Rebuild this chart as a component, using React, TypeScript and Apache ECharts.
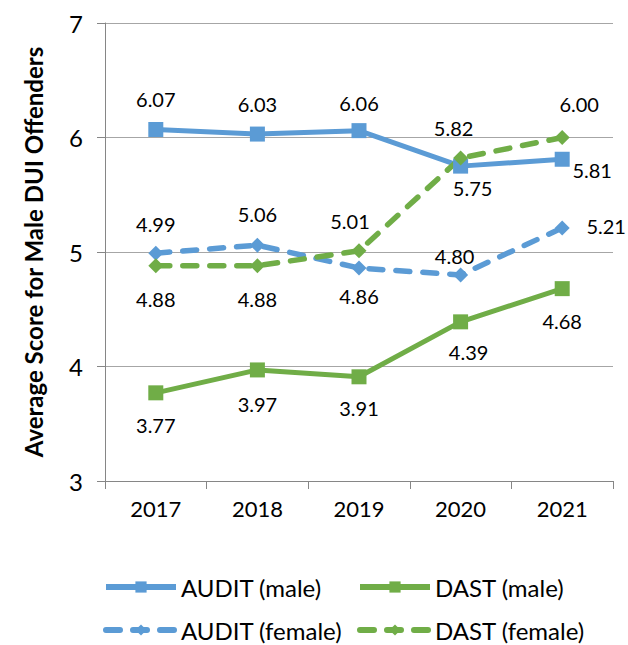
import React, { useEffect, useRef } from "react";
import * as echarts from "echarts";

const years = ["2017", "2018", "2019", "2020", "2021"];
const auditMale = [6.07, 6.03, 6.06, 5.75, 5.81];
const dastMale = [3.77, 3.97, 3.91, 4.39, 4.68];
const auditFemale = [4.99, 5.06, 4.86, 4.8, 5.21];
const dastFemale = [4.88, 4.88, 5.01, 5.82, 6.0];
const yTicks = { min: 3, max: 7, interval: 1 };

// label offsets (style only) relative to each point
const offAuditMale = [[0, -30], [0, -30], [0, -28], [12, 22], [30, 11]];
const offDastMale = [[0, 32], [0, 34], [0, 31], [8, 30], [0, 32]];
const offAuditFemale = [[0, -29], [0, -31], [0, 28], [-6, -19], [44, -2]];
const offDastFemale = [[0, 33], [0, 33], [-9, -30], [-7, -30], [17, -34]];

const BLUE = "#5B9BD5";
const GREEN = "#70AD47";
const FONT = "Lato";
const DASH = [14, 13];

function mkData(vals: number[], offs: number[][]) {
  return vals.map((v, i) => ({
    value: v,
    label: { offset: offs[i] },
  }));
}

function mkSeries(name: string, vals: number[], offs: number[][], color: string, dashed: boolean) {
  return {
    name,
    type: "line",
    data: mkData(vals, offs),
    symbol: dashed ? "diamond" : "rect",
    symbolSize: dashed ? 15 : 15,
    lineStyle: { color, width: dashed ? 5.5 : 5, type: dashed ? DASH : "solid", cap: dashed ? "round" : "butt" },
    itemStyle: { color },
    label: {
      show: true,
      position: "inside",
      color: "#000",
      fontFamily: FONT,
      fontSize: 20,
      formatter: (p: any) => Number(p.value).toFixed(2),
    },
  };
}

export default function App() {
  const ref = useRef<HTMLDivElement>(null);
  useEffect(() => {
    const chart = echarts.init(ref.current!, undefined, { renderer: "svg" });
    const legendText = { fontFamily: FONT, fontSize: 24, color: "#000" };
    const legendBase = {
      itemWidth: 70,
      itemHeight: 14,
      itemGap: 20,
      padding: 0,
      textStyle: legendText,
      orient: "horizontal",
      lineStyle: { width: 6 },
    };
    chart.setOption({
      animation: false,
      textStyle: { fontFamily: FONT },
      grid: { left: 105, right: 15, top: 23, bottom: 164, containLabel: false },
      legend: [
        { ...legendBase, data: ["AUDIT (male)"], left: 103, top: 575 },
        { ...legendBase, data: ["DAST (male)"], left: 357, top: 575 },
        { ...legendBase, data: ["AUDIT (female)"], left: 103, top: 618 },
        { ...legendBase, data: ["DAST (female)"], left: 357, top: 618 },
      ],
      xAxis: {
        type: "category",
        data: years,
        boundaryGap: true,
        axisLine: { lineStyle: { color: "#868686", width: 1 } },
        axisTick: { show: true, length: 8, lineStyle: { color: "#868686" } },
        axisLabel: { color: "#000", fontFamily: FONT, fontSize: 22, margin: 16 },
      },
      yAxis: {
        type: "value",
        min: yTicks.min,
        max: yTicks.max,
        interval: yTicks.interval,
        name: "Average Score for Male DUI Offenders",
        nameLocation: "middle",
        nameGap: 60,
        nameTextStyle: { color: "#000", fontFamily: FONT, fontSize: 24, fontWeight: "bold" },
        axisLine: { show: true, lineStyle: { color: "#868686", width: 1 } },
        axisTick: { show: true, length: 8, lineStyle: { color: "#868686" } },
        axisLabel: { color: "#000", fontFamily: FONT, fontSize: 24, margin: 22 },
        splitLine: { show: true, lineStyle: { color: "#A6A6A6", width: 1 } },
      },
      series: [
        mkSeries("AUDIT (male)", auditMale, offAuditMale, BLUE, false),
        mkSeries("DAST (male)", dastMale, offDastMale, GREEN, false),
        mkSeries("AUDIT (female)", auditFemale, offAuditFemale, BLUE, true),
        mkSeries("DAST (female)", dastFemale, offDastFemale, GREEN, true),
      ],
    });
    return () => chart.dispose();
  }, []);
  return <div ref={ref} style={{ width: 628, height: 645, position: "absolute", left: 0, top: 0 }} />;
}
